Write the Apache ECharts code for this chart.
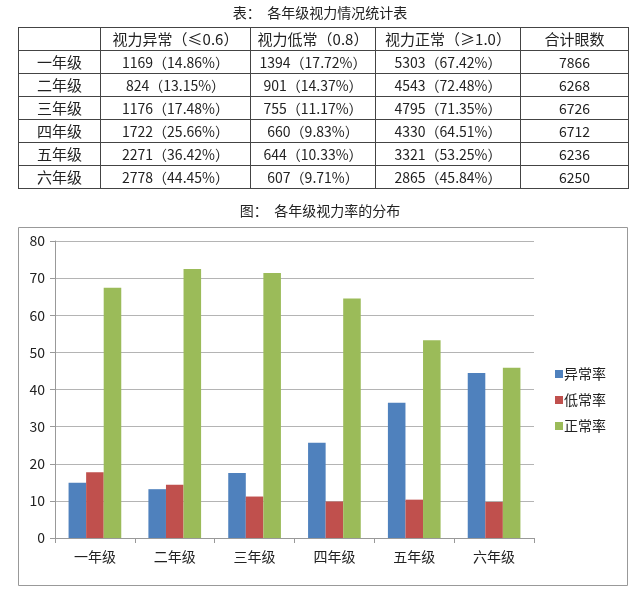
<!DOCTYPE html>
<html><head><meta charset="utf-8">
<script src="https://cdn.jsdelivr.net/npm/echarts@6/dist/echarts.min.js"></script>
<style>
html,body{margin:0;padding:0;background:#fff;}
#wrap{position:relative;width:640px;height:596px;overflow:hidden;font-family:"Noto Sans CJK SC",sans-serif;}
#chart{position:absolute;left:0;top:0;width:640px;height:596px;}
#ttl{position:absolute;left:0;top:2px;width:640px;text-align:center;font-size:14px;color:#222;}
table{position:absolute;left:18px;top:27px;border-collapse:collapse;table-layout:fixed;width:610px;font-size:14px;color:#222;}
td{border:1px solid #444;text-align:center;padding:0;height:22px;line-height:22px;white-space:nowrap;overflow:hidden;}
</style></head>
<body><div id="wrap"><div id="chart"></div><div id="ttl">表：&nbsp;&nbsp;各年级视力情况统计表</div><table id="tb"></table></div>
<script>
const grades = ['一年级','二年级','三年级','四年级','五年级','六年级'];
const tableHeaders = ['', '视力异常（≤0.6）', '视力低常（0.8）', '视力正常（≥1.0）', '合计眼数'];
const abnormalCount = [1169, 824, 1176, 1722, 2271, 2778];
const lowCount = [1394, 901, 755, 660, 644, 607];
const normalCount = [5303, 4543, 4795, 4330, 3321, 2865];
const totalCount = [7866, 6268, 6726, 6712, 6236, 6250];
const abnormalRate = [14.86, 13.15, 17.48, 25.66, 36.42, 44.45];
const lowRate = [17.72, 14.37, 11.17, 9.83, 10.33, 9.71];
const normalRate = [67.42, 72.48, 71.35, 64.51, 53.25, 45.84];
const seriesNames = ['异常率','低常率','正常率'];
const yTicks = [0,10,20,30,40,50,60,70,80];

// table
const colW = [82, 150, 125, 145, 108];
const tb = document.getElementById('tb');
let html = '<colgroup>' + colW.map(w=>`<col style="width:${w}px">`).join('') + '</colgroup>';
html += '<tr>' + tableHeaders.map(h=>`<td style="font-size:15px">${h}</td>`).join('') + '</tr>';
grades.forEach((g,i)=>{
  html += `<tr><td style="font-size:15px">${g}</td><td>${abnormalCount[i]}（${abnormalRate[i].toFixed(2)}%）</td><td>${lowCount[i]}（${lowRate[i].toFixed(2)}%）</td><td>${normalCount[i]}（${normalRate[i].toFixed(2)}%）</td><td>${totalCount[i]}</td></tr>`;
});
tb.innerHTML = html;

const chart = echarts.init(document.getElementById('chart'));
const font = '"Noto Sans CJK SC", sans-serif';
chart.setOption({
  animation:false,
  textStyle:{fontFamily:font},
  title:{text:'图：  各年级视力率的分布',left:'center',top:199,textStyle:{fontSize:14,fontWeight:'normal',color:'#222',fontFamily:font}},
  graphic:[{type:'rect',shape:{x:18.5,y:227.5,width:609,height:358},style:{fill:'none',stroke:'#999',lineWidth:1},z:-1}],
  grid:{left:55,right:106,top:241,bottom:58},
  legend:{orient:'vertical',left:550,top:362,itemWidth:8,itemHeight:8,itemGap:12,icon:'rect',
    textStyle:{fontSize:14,color:'#222',padding:[0,0,0,-4]},data:seriesNames},
  xAxis:{type:'category',data:grades,
    axisLine:{lineStyle:{color:'#999'}},
    axisTick:{show:true,length:5,lineStyle:{color:'#999'}},
    axisLabel:{fontSize:14,color:'#222',margin:12}},
  yAxis:{type:'value',min:0,max:80,interval:10,
    axisLine:{show:true,lineStyle:{color:'#999'}},
    axisTick:{show:true,inside:false,length:5,lineStyle:{color:'#999'}},
    axisLabel:{fontSize:14,color:'#222',margin:10,formatter:v=>yTicks.includes(v)?String(v):''},
    splitLine:{lineStyle:{color:'#b4b4b4'}}},
  series:[
    {name:seriesNames[0],type:'bar',data:abnormalRate,itemStyle:{color:'#4F81BD'},barGap:'0%',barCategoryGap:'34%'},
    {name:seriesNames[1],type:'bar',data:lowRate,itemStyle:{color:'#C0504D'},barGap:'0%',barCategoryGap:'34%'},
    {name:seriesNames[2],type:'bar',data:normalRate,itemStyle:{color:'#9BBB59'},barGap:'0%',barCategoryGap:'34%'}
  ]
});
</script></body></html>
